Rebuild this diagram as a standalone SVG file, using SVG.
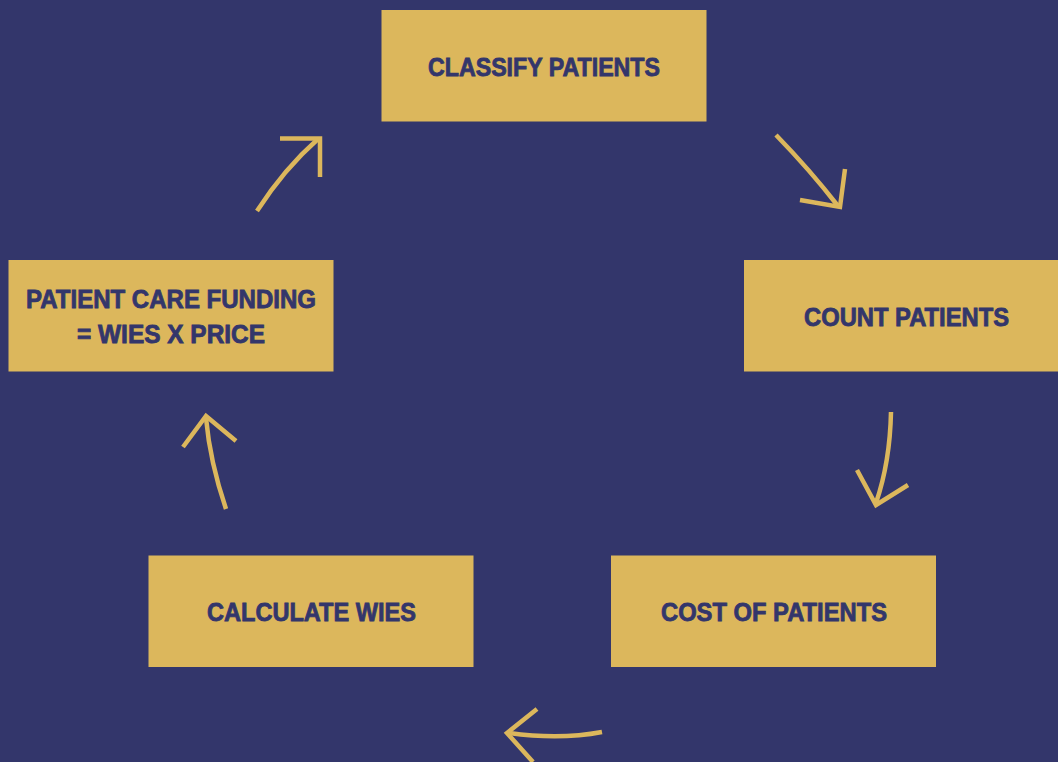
<svg xmlns="http://www.w3.org/2000/svg" width="1058" height="762" viewBox="0 0 1058 762">
  <style>
    .box { fill: #dcb75c; }
    .lbl { font-family: "Liberation Sans", Arial, sans-serif; font-weight: bold; font-size: 25px; fill: #33366b; stroke: #33366b; stroke-width: 0.8; text-anchor: middle; }
    .arr { fill: none; stroke: #dcb75c; stroke-width: 4.5; stroke-linecap: butt; stroke-linejoin: miter; }
  </style>
  <rect x="0" y="0" width="1058" height="762" fill="#33366b"/>

  <g id="classify">
    <rect class="box" x="381.5" y="10" width="325" height="111.5"/>
    <text class="lbl" x="544" y="76" textLength="232" lengthAdjust="spacingAndGlyphs">CLASSIFY PATIENTS</text>
  </g>
  <g id="count">
    <rect class="box" x="744" y="260" width="325" height="111.5"/>
    <text class="lbl" x="906.5" y="326" textLength="205" lengthAdjust="spacingAndGlyphs">COUNT PATIENTS</text>
  </g>
  <g id="cost">
    <rect class="box" x="611" y="555.5" width="325" height="111.5"/>
    <text class="lbl" x="774" y="621" textLength="226" lengthAdjust="spacingAndGlyphs">COST OF PATIENTS</text>
  </g>
  <g id="calculate">
    <rect class="box" x="148.5" y="555.5" width="325" height="111.5"/>
    <text class="lbl" x="311.5" y="621" textLength="209" lengthAdjust="spacingAndGlyphs">CALCULATE WIES</text>
  </g>
  <g id="funding">
    <rect class="box" x="8.5" y="260" width="325" height="111.5"/>
    <text class="lbl" x="171" y="308" textLength="290" lengthAdjust="spacingAndGlyphs">PATIENT CARE FUNDING</text>
    <text class="lbl" x="171" y="343" textLength="188" lengthAdjust="spacingAndGlyphs">= WIES X PRICE</text>
  </g>

  <g id="connectors">
    <path class="arr" d="M257,211 Q284,169 318,139"/>
    <path class="arr" d="M280,138.5 L320,138.5 L320,177"/>

    <path class="arr" d="M776,135 Q810,170 838,206"/>
    <path class="arr" d="M800,200 L840,207 L845,169"/>

    <path class="arr" d="M891,412 Q890,462 876,503"/>
    <path class="arr" d="M857,470 L876,505 L908,485"/>

    <path class="arr" d="M602,732 Q560,740 509,733"/>
    <path class="arr" d="M537,709 L507,733 L533,762"/>

    <path class="arr" d="M226,509 Q210,462 206,418"/>
    <path class="arr" d="M183,447 L206,416 L236,441"/>
  </g>
</svg>
